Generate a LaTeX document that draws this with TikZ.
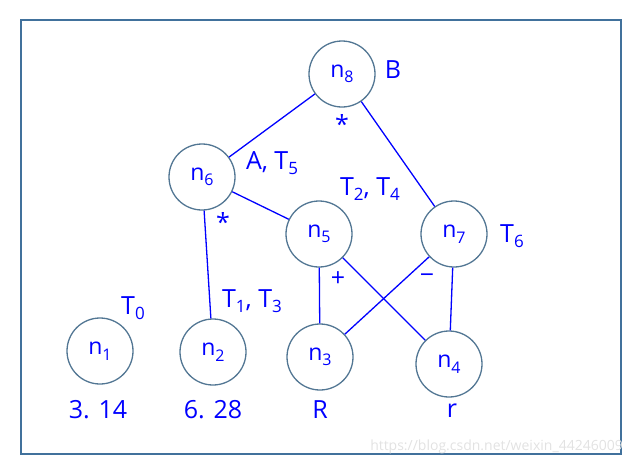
\documentclass[tikz,border=0pt]{standalone}
\usepackage{fontspec}
\setmainfont{Open Sans}
\definecolor{framec}{HTML}{41719C}
\definecolor{ringc}{HTML}{527693}
\definecolor{inkc}{HTML}{0000FF}
\definecolor{wmc}{HTML}{E2E2E2}
\newcommand\mysub[1]{\raisebox{-0.4ex}{\fontsize{17}{17}\selectfont #1}}
\newcommand\nsub[1]{\raisebox{-0.45ex}{\fontsize{16}{16}\selectfont #1}}
\begin{document}
\begin{tikzpicture}[x=1pt,y=-1pt,
  vnode/.style={circle,draw=ringc,line width=1.3pt,minimum size=66pt,inner sep=0pt,text=inkc,font=\fontsize{23}{23}\selectfont},
  lbl/.style={text=inkc,font=\fontsize{25}{25}\selectfont,inner sep=0pt},
  edge/.style={draw=inkc,line width=1.3pt}]
\useasboundingbox (0,0) rectangle (632,467);
\draw[framec, line width=2pt] (21,20) rectangle (621,454);
\node[vnode] (n8) at (342,74) {n\nsub{8}};
\node[vnode] (n6) at (202,177) {n\nsub{6}};
\node[vnode] (n5) at (319,234) {n\nsub{5}};
\node[vnode] (n7) at (454,234) {n\nsub{7}};
\node[vnode] (n1) at (100,351) {n\nsub{1}};
\node[vnode] (n2) at (213,352) {n\nsub{2}};
\node[vnode] (n3) at (320,357) {n\nsub{3}};
\node[vnode] (n4) at (449,364) {n\nsub{4}};
\draw[edge] (n8) -- (n6);
\draw[edge] (n8) -- (n7);
\draw[edge] (n6) -- (n5);
\draw[edge] (n6) -- (n2);
\draw[edge] (n5) -- (n3);
\draw[edge] (n5) -- (n4);
\draw[edge] (n7) -- (n3);
\draw[edge] (n7) -- (n4);
\node[lbl] (lB) at (393,70) {B};
\node[lbl] (s8) at (342,124) {*};
\node[lbl] (lA) at (272,163) {A, T\mysub{5}};
\node[lbl] (s6) at (223,222) {*};
\node[lbl] (l24) at (370,189) {T\mysub{2}, T\mysub{4}};
\node[lbl] (l6) at (512,236) {T\mysub{6}};
\node[lbl] (lp) at (338,279) {+};
\node[lbl] (lm) at (427,279) {−};
\node[lbl] (l0) at (133,308) {T\mysub{0}};
\node[lbl] (l13) at (252,301) {T\mysub{1}, T\mysub{3}};
\node[lbl] (v1) at (98,410) {3. 14};
\node[lbl] (v2) at (213,410) {6. 28};
\node[lbl] (v3) at (320,410) {R};
\node[lbl] (v4) at (452,411) {r};
\node[text=wmc,font=\fontsize{14}{14}\selectfont,inner sep=0pt,anchor=east] (wm) at (623,447) {https://blog.csdn.net/weixin\_44246009};
\end{tikzpicture}
\end{document}
